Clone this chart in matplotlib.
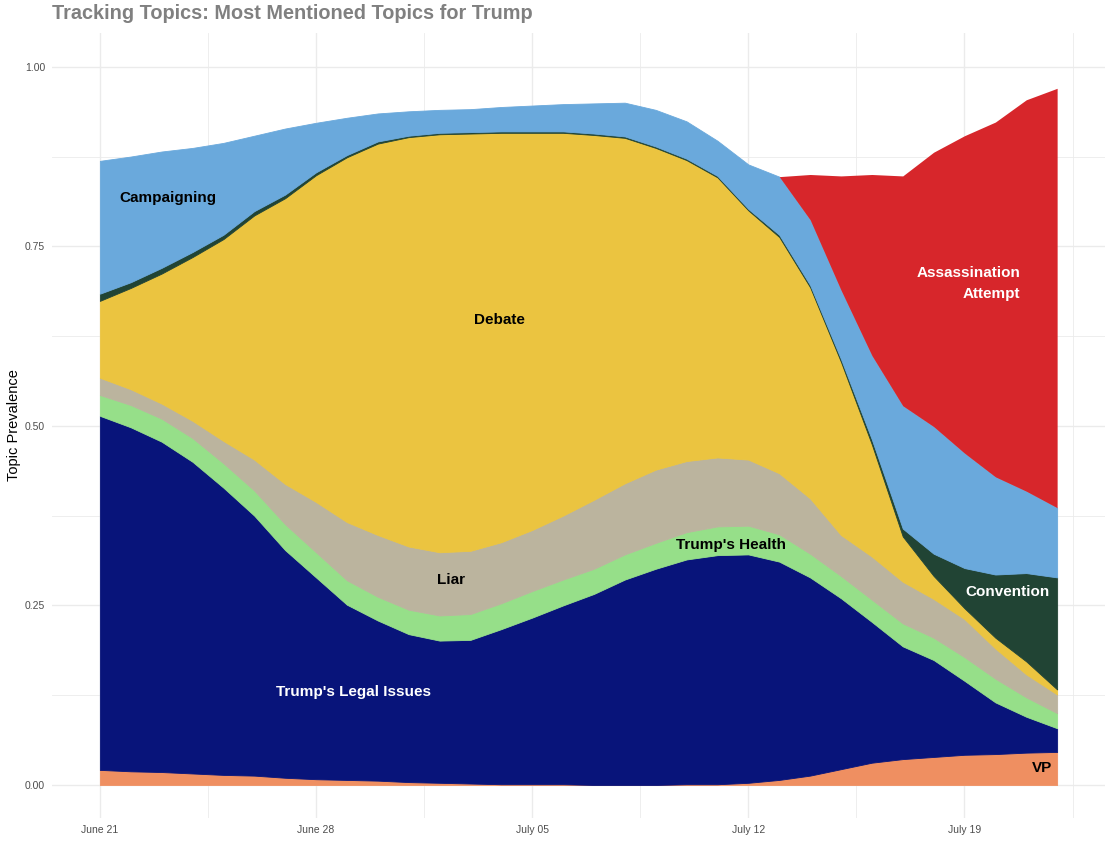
import numpy as np
import pandas as pd
import matplotlib
matplotlib.use("Agg")
import matplotlib.pyplot as plt
import matplotlib.dates as mdates
from matplotlib.ticker import MultipleLocator, FixedLocator

# daily topic prevalence, June 21 - July 22 (2024)
dates = pd.date_range("2024-06-21", "2024-07-22", freq="D")

vp = [0.021, 0.019, 0.018, 0.016, 0.014, 0.013, 0.010, 0.008, 0.007, 0.006, 0.004,
      0.003, 0.002, 0.001, 0.001, 0.001, 0.000, 0.000, 0.000, 0.001, 0.001, 0.003,
      0.007, 0.013, 0.022, 0.031, 0.036, 0.039, 0.042, 0.043, 0.045, 0.046]
legal = [0.493, 0.479, 0.460, 0.434, 0.400, 0.362, 0.317, 0.281, 0.244, 0.223, 0.206,
         0.198, 0.200, 0.216, 0.232, 0.249, 0.266, 0.286, 0.301, 0.313, 0.319, 0.318,
         0.304, 0.276, 0.238, 0.196, 0.157, 0.135, 0.103, 0.072, 0.050, 0.033]
health = [0.029, 0.031, 0.032, 0.033, 0.034, 0.035, 0.036, 0.035, 0.034, 0.033, 0.034,
          0.035, 0.036, 0.036, 0.037, 0.036, 0.035, 0.035, 0.036, 0.038, 0.040, 0.040,
          0.038, 0.033, 0.031, 0.031, 0.032, 0.031, 0.033, 0.033, 0.027, 0.021]
liar = [0.024, 0.022, 0.021, 0.024, 0.031, 0.043, 0.056, 0.070, 0.081, 0.086, 0.088,
        0.088, 0.088, 0.085, 0.085, 0.089, 0.096, 0.099, 0.102, 0.099, 0.096, 0.092,
        0.085, 0.077, 0.057, 0.060, 0.058, 0.054, 0.053, 0.042, 0.032, 0.026]
debate = [0.107, 0.141, 0.181, 0.228, 0.281, 0.340, 0.398, 0.455, 0.508, 0.545, 0.570,
          0.582, 0.581, 0.570, 0.553, 0.533, 0.508, 0.481, 0.448, 0.419, 0.390, 0.347,
          0.329, 0.294, 0.241, 0.156, 0.063, 0.032, 0.015, 0.015, 0.018, 0.007]
convention = [0.010, 0.008, 0.008, 0.007, 0.006, 0.006, 0.005, 0.004, 0.003, 0.003, 0.002,
              0.002, 0.002, 0.002, 0.002, 0.002, 0.002, 0.002, 0.002, 0.002, 0.002, 0.002,
              0.003, 0.003, 0.004, 0.007, 0.011, 0.031, 0.056, 0.088, 0.123, 0.156]
campaigning = [0.185, 0.175, 0.162, 0.145, 0.128, 0.105, 0.092, 0.069, 0.052, 0.039, 0.034,
               0.032, 0.032, 0.034, 0.036, 0.038, 0.042, 0.047, 0.051, 0.052, 0.049, 0.062,
               0.081, 0.091, 0.096, 0.117, 0.171, 0.177, 0.160, 0.136, 0.114, 0.097]
assassination = [0.0] * 23 + [0.063, 0.159, 0.252, 0.320, 0.382, 0.442, 0.494, 0.545, 0.584]

series = [vp, legal, health, liar, debate, convention, campaigning, assassination]
colors = ["#EF8F61", "#08147A", "#96DF89", "#BBB49E", "#EBC440", "#214434", "#6AA9DC", "#D7262B"]

plt.rcParams['font.family'] = ['Liberation Sans', 'DejaVu Sans']

fig = plt.figure(figsize=(11.1, 8.44), dpi=100)
ax = fig.add_axes([52 / 1110, 26 / 844, 1053 / 1110, 785 / 844])

polys = ax.stackplot(dates, *series, colors=colors, edgecolor="face", linewidth=0.6, zorder=2)
polys[-1].set_linewidth(0)

x0 = mdates.date2num(dates[0])
ax.set_xlim(x0 - 1.55, x0 + 32.55)
ax.set_ylim(-0.046, 1.047)

# gridlines like theme_minimal
ax.xaxis.set_major_locator(FixedLocator([x0 + d for d in (0, 7, 14, 21, 28)]))
ax.xaxis.set_minor_locator(FixedLocator([x0 + d for d in (3.5, 10.5, 17.5, 24.5, 31.5)]))
ax.xaxis.set_major_formatter(mdates.DateFormatter("%B %d"))
ax.yaxis.set_major_locator(MultipleLocator(0.25))
ax.yaxis.set_minor_locator(MultipleLocator(0.125))
ax.yaxis.set_major_formatter(matplotlib.ticker.FormatStrFormatter("%.2f"))
ax.grid(which="major", color="#EBEBEB", linewidth=1.0, zorder=0)
ax.grid(which="minor", color="#EBEBEB", linewidth=0.6, zorder=0)
ax.set_axisbelow(True)
for s in ax.spines.values():
    s.set_visible(False)
ax.tick_params(which="both", length=0, labelsize=7.5, labelcolor="#4D4D4D", pad=5)

ax.set_ylabel("Topic Prevalence", fontsize=10.5, color="black", labelpad=3)
ax.set_title("Tracking Topics: Most Mentioned Topics for Trump", loc="left",
             fontsize=14.3, fontweight="bold", color="#808080", pad=10)

labels = [
    ("Campaigning", 2.2, 0.817, "black", "center"),
    ("Debate", 12.95, 0.648, "black", "center"),
    ("Liar", 11.36, 0.286, "black", "center"),
    ("Trump's Health", 20.45, 0.334, "black", "center"),
    ("Trump's Legal Issues", 8.21, 0.130, "white", "center"),
    ("Assassination\nAttempt", 29.8, 0.698, "white", "right"),
    ("Convention", 29.38, 0.269, "white", "center"),
    ("VP", 30.5, 0.024, "black", "center"),
]
for txt, d, y, c, ha in labels:
    ax.text(x0 + d, y, txt, ha=ha, va="center", multialignment=ha, fontsize=11,
            fontweight="bold", color=c, linespacing=1.6, zorder=5)

fig.savefig("out.png", dpi=100)
